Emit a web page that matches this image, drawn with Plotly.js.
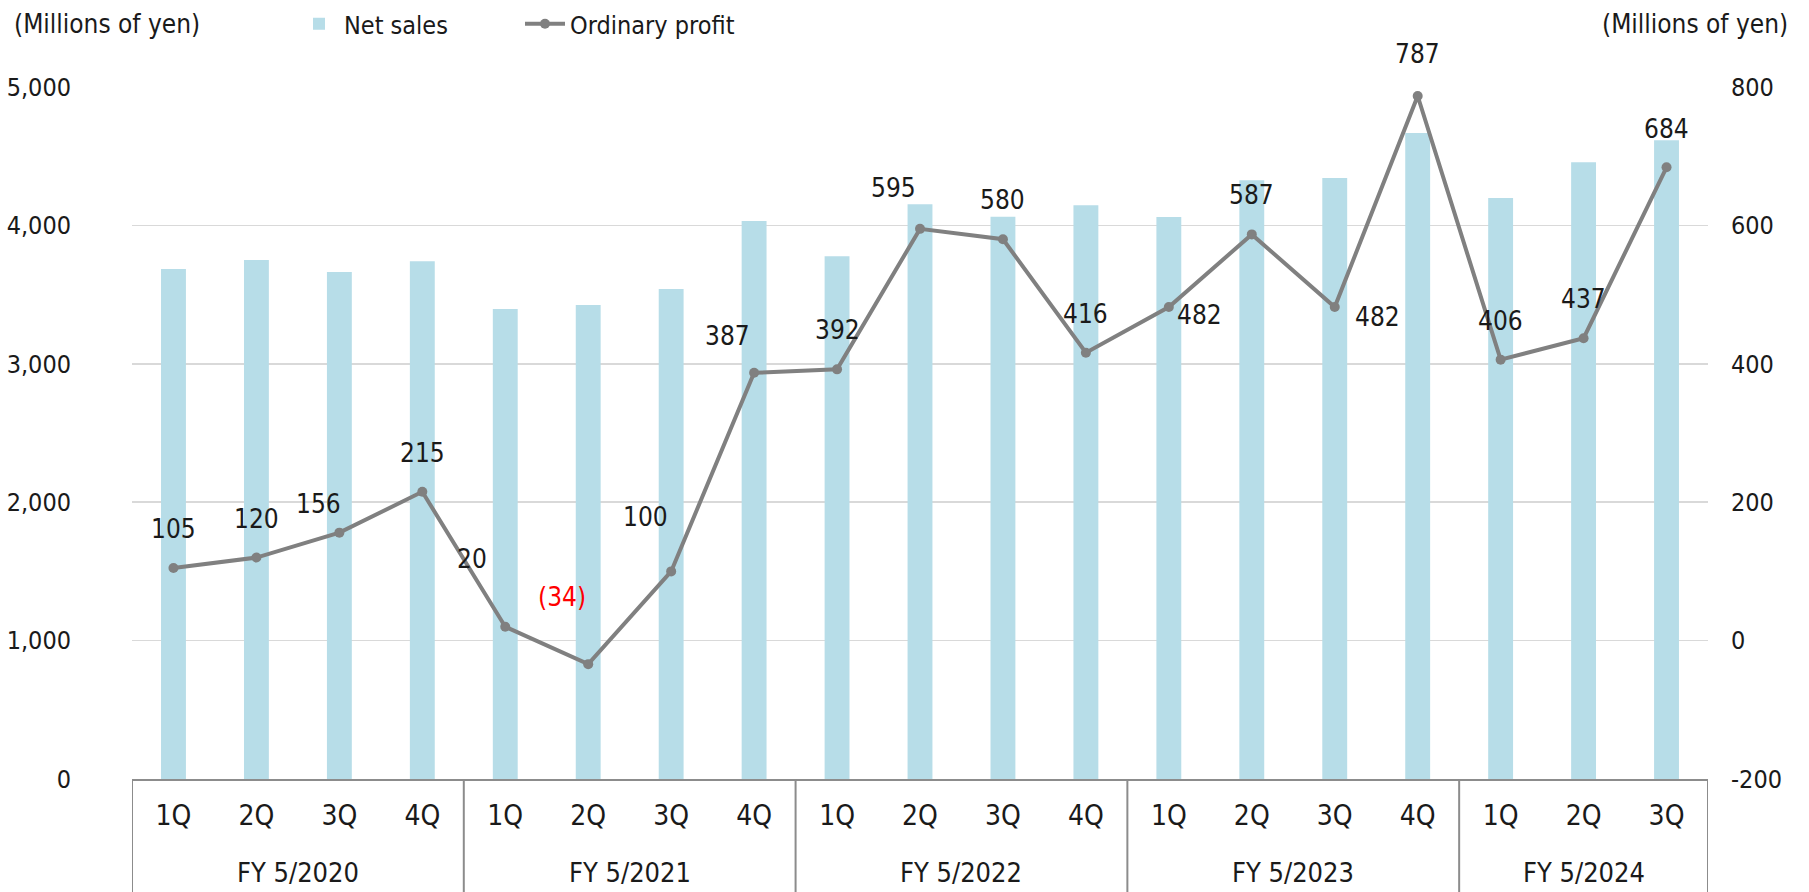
<!DOCTYPE html>
<html>
<head>
<meta charset="utf-8">
<script src="https://cdn.plot.ly/plotly-3.0.1.min.js"></script>
<style>html,body{margin:0;padding:0;background:#fff}#chart{width:1809px;height:892px}</style>
</head>
<body>
<div id="chart"></div>
<script>
// ---- data ----
const quarters = ["1Q","2Q","3Q","4Q","1Q","2Q","3Q","4Q","1Q","2Q","3Q","4Q","1Q","2Q","3Q","4Q","1Q","2Q","3Q"];
const fiscalYears = ["FY 5/2020","FY 5/2020","FY 5/2020","FY 5/2020",
                     "FY 5/2021","FY 5/2021","FY 5/2021","FY 5/2021",
                     "FY 5/2022","FY 5/2022","FY 5/2022","FY 5/2022",
                     "FY 5/2023","FY 5/2023","FY 5/2023","FY 5/2023",
                     "FY 5/2024","FY 5/2024","FY 5/2024"];
const netSales = [3685,3750,3663,3741,3396,3425,3540,4032,3777,4152,4063,4145,4061,4326,4342,4668,4198,4456,4615];
const ordinaryProfit = [105,120,156,215,20,-34,100,387,392,595,580,416,482,587,482,787,406,437,684];
const seriesNames = ["Net sales","Ordinary profit"];
const unitLabel = "(Millions of yen)";
const salesTicks = [0,1000,2000,3000,4000,5000];
const profitTicks = [-200,0,200,400,600,800];

// ---- label placement (style only) ----
const labelShift = [[0,39],[0,39],[-21,29],[0,39],[-33,68],[-26,67],[-26,54],[-27,37],[0,39],[-27,41],[0,39],[0,39],[31,-8],[0,39],[43,-10],[0,42],[0,39],[0,39],[0,38]];

const FONT = "'Liberation Sans Narrow', 'DejaVu Sans Condensed', 'Liberation Sans', sans-serif";
const TXT = "#1a1a1a";
const idx = quarters.map((q, i) => i);

const traces = [
  {
    type: "bar", name: seriesNames[0], x: idx, y: netSales,
    marker: {color: "#b7dde8"}, yaxis: "y", hoverinfo: "y"
  },
  {
    type: "scatter", mode: "lines+markers", name: seriesNames[1], x: idx, y: ordinaryProfit,
    yaxis: "y2", line: {color: "#808080", width: 4},
    marker: {color: "#808080", size: 10, symbol: "circle"}
  }
];

const W = 1809, H = 892, L = 132, R = 101, T = 87, B = 113;
const pw = W - L - R, ph = H - T - B;
const px2x = p => (p - L) / pw;
const px2y = p => (H - B - p) / ph;

const annotations = [];
ordinaryProfit.forEach((v, i) => {
  annotations.push({
    x: i, y: v, xref: "x", yref: "y2", showarrow: false,
    text: v < 0 ? "(" + Math.abs(v) + ")" : String(v),
    font: {family: FONT, size: 26, color: v < 0 ? "#ff0000" : TXT},
    xanchor: "center", yanchor: "middle",
    xshift: labelShift[i][0], yshift: labelShift[i][1]
  });
});

// fiscal year group labels and dividers
const shapes = [];
const groups = [];
fiscalYears.forEach((fy, i) => {
  if (!groups.length || groups[groups.length - 1].name !== fy) groups.push({name: fy, start: i, end: i});
  else groups[groups.length - 1].end = i;
});
groups.forEach(g => {
  annotations.push({
    x: (g.start + g.end) / 2, y: px2y(872), xref: "x", yref: "paper", showarrow: false,
    text: g.name, font: {family: FONT, size: 27, color: TXT}, xanchor: "center", yanchor: "middle"
  });
  shapes.push({type: "line", xref: "x", yref: "paper", x0: g.start - 0.5, x1: g.start - 0.5, y0: 0, y1: -0.2,
               line: {color: "#8c8c8c", width: 2}});
});
const lastG = groups[groups.length - 1];
shapes.push({type: "line", xref: "x", yref: "paper", x0: lastG.end + 0.5, x1: lastG.end + 0.5, y0: 0, y1: -0.2,
             line: {color: "#8c8c8c", width: 2}});

annotations.push({x: px2x(12), y: px2y(24), xref: "paper", yref: "paper", showarrow: false, text: unitLabel,
  font: {family: FONT, size: 26, color: TXT}, xanchor: "left", yanchor: "middle"});
annotations.push({x: px2x(1790), y: px2y(24), xref: "paper", yref: "paper", showarrow: false, text: unitLabel,
  font: {family: FONT, size: 26, color: TXT}, xanchor: "right", yanchor: "middle"});

const layout = {
  width: W, height: H,
  margin: {l: L, r: R, t: T, b: B, pad: 0, autoexpand: false},
  paper_bgcolor: "#fff", plot_bgcolor: "#fff",
  font: {family: FONT, size: 26, color: TXT},
  bargap: 0.7,
  showlegend: true,
  legend: {
    orientation: "h", xref: "container", yref: "container",
    x: 294 / W, y: 1 - 24 / H, xanchor: "left", yanchor: "middle",
    font: {family: FONT, size: 25, color: TXT}, entrywidth: 171, entrywidthmode: "pixels",
    itemwidth: 40, bgcolor: "rgba(0,0,0,0)", traceorder: "normal"
  },
  xaxis: {
    range: [-0.5, quarters.length - 0.5], tickmode: "array", tickvals: idx, ticktext: quarters,
    showgrid: false, zeroline: false, showline: true, linecolor: "#8c8c8c", linewidth: 2,
    ticks: "", tickfont: {family: FONT, size: 28, color: TXT}, ticklabelstandoff: 10, fixedrange: true
  },
  yaxis: {
    range: [0, 5000], tickmode: "array", tickvals: salesTicks,
    ticktext: salesTicks.map(v => v.toLocaleString("en-US")),
    showgrid: true, gridcolor: "#d9d9d9", gridwidth: 1.5,
    zeroline: false, showline: false, ticks: "", tickfont: {family: FONT, size: 25, color: TXT},
    ticklabelstandoff: 60, fixedrange: true
  },
  yaxis2: {
    overlaying: "y", side: "right", range: [-200, 800], tickmode: "array", tickvals: profitTicks,
    ticktext: profitTicks.map(v => String(v)),
    showgrid: false, zeroline: false,
    showline: false, ticks: "", tickfont: {family: FONT, size: 25, color: TXT}, ticklabelstandoff: 22,
    fixedrange: true
  },
  annotations: annotations,
  shapes: shapes
};

Plotly.newPlot("chart", traces, layout, {displayModeBar: false, staticPlot: true});
</script>
</body>
</html>
